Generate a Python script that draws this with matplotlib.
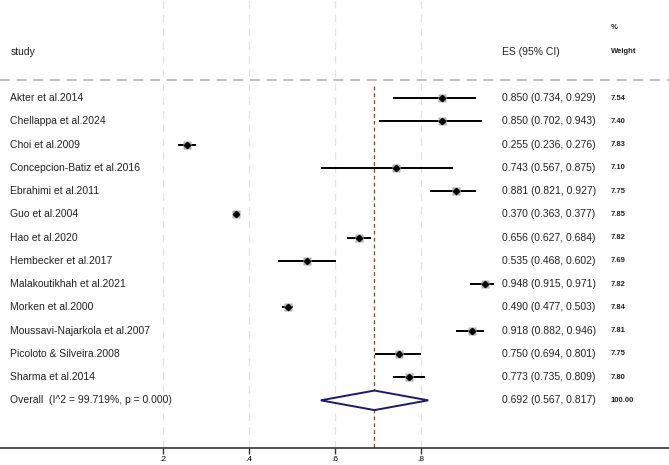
import matplotlib
matplotlib.use('Agg')
import matplotlib.pyplot as plt

plt.rcParams['font.family'] = ['Liberation Sans', 'DejaVu Sans']

studies = [
    "Akter et al.2014", "Chellappa et al.2024", "Choi et al.2009",
    "Concepcion-Batiz et al.2016", "Ebrahimi et al.2011", "Guo et al.2004",
    "Hao et al.2020", "Hembecker et al.2017", "Malakoutikhah et al.2021",
    "Morken et al.2000", "Moussavi-Najarkola et al.2007",
    "Picoloto & Silveira.2008", "Sharma et al.2014",
]
es = [0.850, 0.850, 0.255, 0.743, 0.881, 0.370, 0.656, 0.535, 0.948, 0.490, 0.918, 0.750, 0.773]
lo = [0.734, 0.702, 0.236, 0.567, 0.821, 0.363, 0.627, 0.468, 0.915, 0.477, 0.882, 0.694, 0.735]
hi = [0.929, 0.943, 0.276, 0.875, 0.927, 0.377, 0.684, 0.602, 0.971, 0.503, 0.946, 0.801, 0.809]
weights = ["7.54", "7.40", "7.83", "7.10", "7.75", "7.85", "7.82", "7.69", "7.82", "7.84", "7.81", "7.75", "7.80"]

overall_es, overall_lo, overall_hi = 0.692, 0.567, 0.817
overall_label = "Overall  (I^2 = 99.719%, p = 0.000)"
overall_weight = "100.00"

xticks = [0.2, 0.4, 0.6, 0.8]
xticklabels = [".2", ".4", ".6", ".8"]

fig = plt.figure(figsize=(6.69, 4.65), dpi=100)
ax = fig.add_axes([0, 17 / 465, 1, 448 / 465])
ax.set_xlim(-0.179, 1.377)
ax.set_ylim(15.05, -4.215)

for s in ['top', 'left', 'right']:
    ax.spines[s].set_visible(False)
ax.spines['bottom'].set_color('#333333')
ax.spines['bottom'].set_linewidth(1.2)
ax.set_yticks([])
ax.set_xticks(xticks)
ax.set_xticklabels(xticklabels, fontsize=6)
ax.tick_params(axis='x', direction='out', length=4.5, width=1.0, pad=1.5, color='#333333')

# faint vertical grid lines
for t in xticks:
    ax.axvline(t, color='#e3e3e3', lw=0.9, ls=(0, (6, 5)), zorder=0)

# header
text_color = '#222222'
ax.text(0.0155, -2, "study", transform=ax.get_yaxis_transform(), fontsize=7.5,
        va='center', color=text_color)
ax.text(0.75, -2, "ES (95% CI)", transform=ax.get_yaxis_transform(), fontsize=7.5,
        va='center', color=text_color)
ax.text(0.913, -2, "Weight", transform=ax.get_yaxis_transform(), fontsize=5.5,
        va='center', color=text_color, fontweight='bold')
ax.text(0.913, -3.05, "%", transform=ax.get_yaxis_transform(), fontsize=5.5,
        va='center', color=text_color, fontweight='bold')

# dashed separator
ax.axhline(-0.77, color='#b5b5b5', lw=1.2, ls=(0, (6, 4)), zorder=1)

# overall effect line
ax.plot([overall_es, overall_es], [-0.5, 15.05], color='#8b3a3a', lw=0.9,
        ls=(0, (3, 2.5)), zorder=2)

for i, (name, e, l, h, w) in enumerate(zip(studies, es, lo, hi, weights)):
    ax.plot([l, h], [i, i], color='black', lw=1.4, zorder=3, solid_capstyle='butt')
    ax.plot(e, i, marker='s', ms=5.5, color='#b0b0b0', mec='none', zorder=3)
    ax.plot(e, i, marker='D', ms=3.2, color='black', zorder=4)
    ax.text(0.0155, i, name, transform=ax.get_yaxis_transform(), fontsize=7.5,
            va='center', color=text_color)
    ax.text(0.75, i, f"{e:.3f} ({l:.3f}, {h:.3f})", transform=ax.get_yaxis_transform(),
            fontsize=7.5, va='center', color=text_color)
    ax.text(0.913, i, w, transform=ax.get_yaxis_transform(), fontsize=5.5,
            va='center', color=text_color, fontweight='bold')

# overall diamond
n = len(studies)
ax.fill([overall_lo, overall_es, overall_hi, overall_es, overall_lo],
        [n, n - 0.42, n, n + 0.42, n], facecolor='white', edgecolor='#1a1a6e',
        lw=1.4, zorder=5)
ax.text(0.0155, n, overall_label, transform=ax.get_yaxis_transform(), fontsize=7.5,
        va='center', color=text_color)
ax.text(0.75, n, f"{overall_es:.3f} ({overall_lo:.3f}, {overall_hi:.3f})",
        transform=ax.get_yaxis_transform(), fontsize=7.5, va='center', color=text_color)
ax.text(0.913, n, overall_weight, transform=ax.get_yaxis_transform(), fontsize=5.5,
        va='center', color=text_color, fontweight='bold')

fig.savefig('out.png', dpi=100)
